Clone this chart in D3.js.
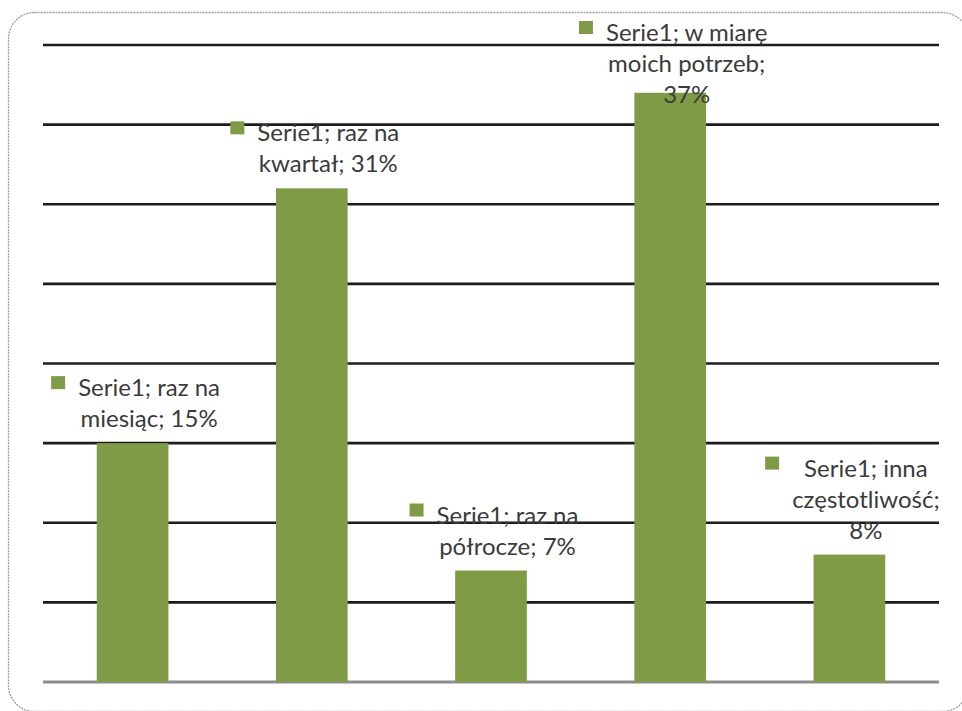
<!DOCTYPE html>
<html>
<head>
<meta charset="utf-8">
<script src="https://cdn.jsdelivr.net/npm/d3@7"></script>
<style>
  html, body { margin: 0; padding: 0; background: #ffffff; }
  svg { display: block; }
</style>
</head>
<body>
<svg id="chart" width="962" height="711"></svg>
<script>
// ---- data ----
const seriesName = "Serie1";
const categories = ["raz na miesiąc", "raz na kwartał", "raz na półrocze", "w miarę moich potrzeb", "inna częstotliwość"];
const values = [15, 31, 7, 37, 8];
const yTicks = [0, 5, 10, 15, 20, 25, 30, 35, 40];
const labelLines = [
  ["Serie1; raz na", "miesiąc; 15%"],
  ["Serie1; raz na", "kwartał; 31%"],
  ["Serie1; raz na", "półrocze; 7%"],
  ["Serie1; w miarę", "moich potrzeb;", "37%"],
  ["Serie1; inna", "częstotliwość;", "8%"]
];

// ---- layout ----
const W = 962, H = 711;
const plot = { left: 43, right: 939, top: 45, bottom: 682 };
const barColor = "#7F9B46";
const textColor = "#3b3b3b";
const fontFamily = "Lato, 'Open Sans', sans-serif";
const fontSize = 24;
const lineH = 31;

const svg = d3.select("#chart");

// outer rounded dashed frame
svg.append("rect")
  .attr("x", 8.5).attr("y", 12.5)
  .attr("width", 960).attr("height", 699)
  .attr("rx", 26).attr("ry", 26)
  .attr("fill", "#ffffff")
  .attr("stroke", "#9a9a9a")
  .attr("stroke-width", 1.3)
  .attr("stroke-dasharray", "2,1");

const x = d3.scaleBand()
  .domain(categories)
  .range([plot.left, plot.right])
  .paddingInner(0.6)
  .paddingOuter(0.3);

const y = d3.scaleLinear()
  .domain([0, 40])
  .range([plot.bottom, plot.top]);

// gridlines (excluding baseline)
const grid = svg.append("g").attr("class", "grid");
grid.selectAll("line")
  .data(yTicks.filter(t => t > 0))
  .join("line")
  .attr("x1", plot.left).attr("x2", plot.right)
  .attr("y1", d => y(d)).attr("y2", d => y(d))
  .attr("stroke", "#1c1c1c")
  .attr("stroke-width", 2.6);

// baseline axis
const xAxis = d3.axisBottom(x).tickSize(0).tickFormat("");
const axisG = svg.append("g")
  .attr("transform", `translate(0,${y(0)})`)
  .call(xAxis);
axisG.select(".domain")
  .attr("stroke", "#8c8c8c")
  .attr("stroke-width", 3)
  .attr("d", `M${plot.left},0H${plot.right}`);

// bars
svg.append("g").selectAll("rect")
  .data(values)
  .join("rect")
  .attr("x", (d, i) => x(categories[i]))
  .attr("y", d => y(d))
  .attr("width", x.bandwidth())
  .attr("height", d => y(0) - y(d))
  .attr("fill", barColor);

// data labels with legend key
const keySize = 14, keyGap = 13;
const labels = svg.append("g").attr("class", "labels");
values.forEach((v, i) => {
  const lines = labelLines[i];
  const g = labels.append("g");
  const texts = g.selectAll("text")
    .data(lines)
    .join("text")
    .attr("font-family", fontFamily)
    .attr("font-size", fontSize)
    .attr("fill", textColor)
    .attr("text-anchor", "middle")
    .text(d => d);
  const maxW = d3.max(texts.nodes(), n => n.getComputedTextLength());
  const blockW = keySize + keyGap + maxW;
  const cx = x(categories[i]) + x.bandwidth() / 2 + 3;
  const left = cx - blockW / 2;
  const textCx = left + keySize + keyGap + maxW / 2;
  let lastBase = y(v) - 16;
  let firstBase = lastBase - (lines.length - 1) * lineH;
  if (firstBase < 41) { firstBase = 41; }
  texts.attr("x", textCx).attr("y", (d, j) => firstBase + j * lineH);
  g.append("rect")
    .attr("x", left)
    .attr("y", firstBase - 20)
    .attr("width", keySize)
    .attr("height", keySize - 1)
    .attr("fill", barColor);
});
</script>
</body>
</html>
